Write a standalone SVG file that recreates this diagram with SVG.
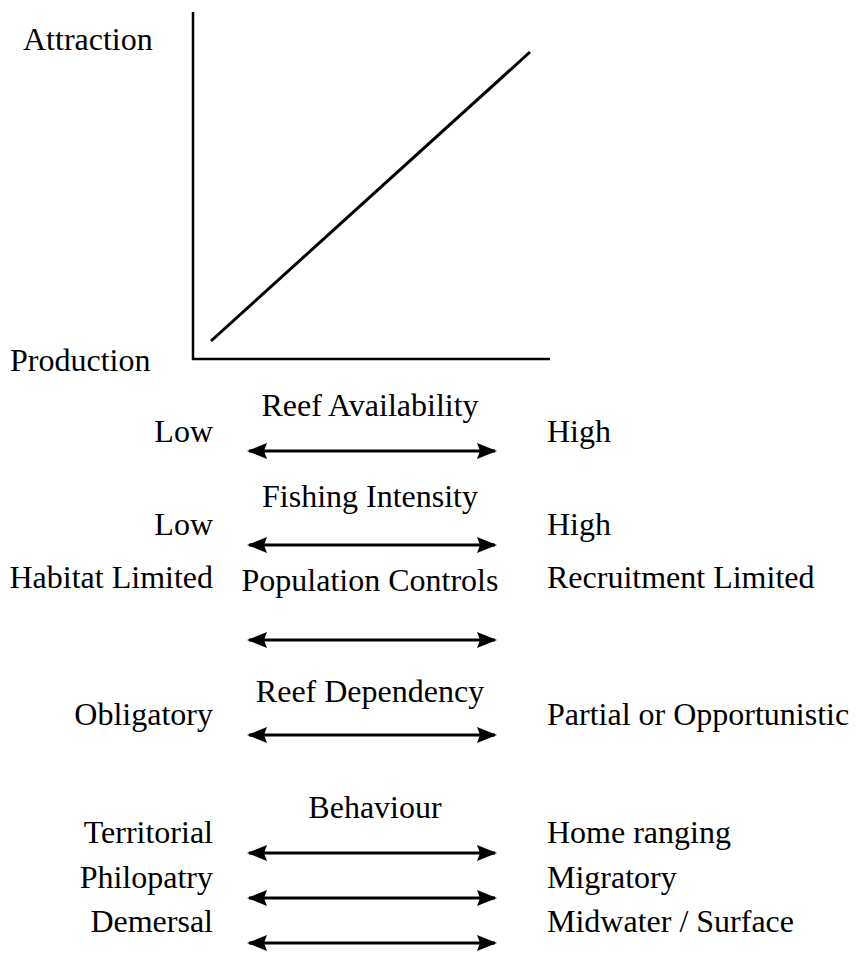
<svg xmlns="http://www.w3.org/2000/svg" width="859" height="955" viewBox="0 0 859 955" font-family="'Liberation Serif', 'Times New Roman', serif">
<style>
text{font-family:'Liberation Serif','Times New Roman',serif;font-size:32px;fill:#000}
.c{text-anchor:middle}
.l{text-anchor:end}
.axis{stroke:#000;stroke-width:2.5;fill:none}
.arr{stroke:#000;stroke-width:3;fill:none;marker-start:url(#ah);marker-end:url(#ah)}
</style>
<defs>
<marker id="ah" markerUnits="userSpaceOnUse" markerWidth="20" markerHeight="18" viewBox="0 0 20 18" refX="18" refY="9" orient="auto-start-reverse">
<path d="M0,1 L20,9 L0,17 L3,9 Z" fill="#000"/>
</marker>
</defs>
<rect width="859" height="955" fill="#fff"/>
<g id="chart">
<line class="axis" x1="193" y1="12" x2="193" y2="360"/>
<line class="axis" x1="192" y1="359" x2="550" y2="359"/>
<line x1="211" y1="341" x2="530" y2="52" stroke="#000" stroke-width="3"/>
<text id="lbl-attraction" x="23" y="50">Attraction</text>
<text id="lbl-production" x="10" y="371">Production</text>
</g>
<g id="row-reef-availability">
<text class="c" x="370" y="416">Reef Availability</text>
<text class="l" x="213" y="442">Low</text>
<text x="547" y="442">High</text>
</g>
<g id="row-fishing-intensity">
<text class="c" x="370" y="507">Fishing Intensity</text>
<text class="l" x="213" y="535">Low</text>
<text x="547" y="535">High</text>
</g>
<g id="row-population-controls">
<text class="c" x="370" y="591">Population Controls</text>
<text class="l" x="213" y="588">Habitat Limited</text>
<text x="547" y="588">Recruitment Limited</text>
</g>
<g id="row-reef-dependency">
<text class="c" x="370" y="702">Reef Dependency</text>
<text class="l" x="213" y="725">Obligatory</text>
<text x="547" y="725">Partial or Opportunistic</text>
</g>
<g id="row-behaviour">
<text class="c" x="375" y="818">Behaviour</text>
<text class="l" x="213" y="843">Territorial</text>
<text x="547" y="843">Home ranging</text>
<text class="l" x="213" y="888">Philopatry</text>
<text x="547" y="888">Migratory</text>
<text class="l" x="213" y="932">Demersal</text>
<text x="547" y="932">Midwater / Surface</text>
</g>
<g id="connectors">
<line class="arr" x1="249" y1="451" x2="495" y2="451"/>
<line class="arr" x1="249" y1="545" x2="495" y2="545"/>
<line class="arr" x1="249" y1="640" x2="495" y2="640"/>
<line class="arr" x1="249" y1="735" x2="495" y2="735"/>
<line class="arr" x1="249" y1="853" x2="495" y2="853"/>
<line class="arr" x1="249" y1="898" x2="495" y2="898"/>
<line class="arr" x1="249" y1="943" x2="495" y2="943"/>
</g>
</svg>
